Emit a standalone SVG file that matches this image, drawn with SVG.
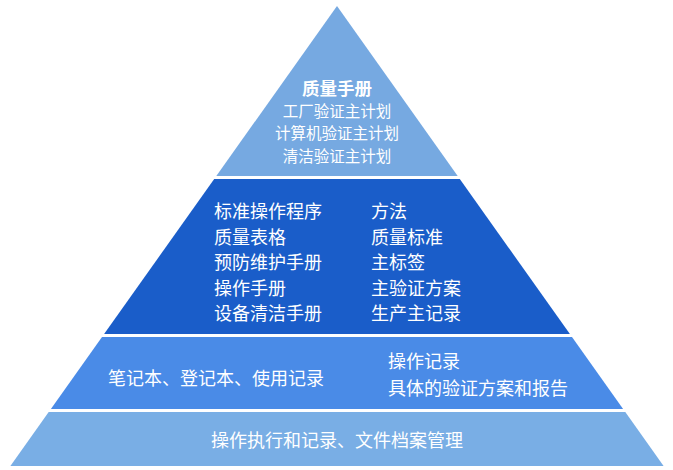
<svg xmlns="http://www.w3.org/2000/svg" width="673" height="470" viewBox="0 0 673 470">
  <style>
    text { font-family: "Noto Sans CJK SC", "Noto Sans", sans-serif; fill: #ffffff; }
    .t1 { font-size: 15.5px; text-anchor: middle; }
    .t1b { font-size: 17.5px; font-weight: bold; text-anchor: middle; }
    .t2 { font-size: 18px; }
    .tm { font-size: 18px; text-anchor: middle; }
  </style>
  <rect width="673" height="470" fill="#ffffff"/>
  <g id="tier-top">
    <polygon points="337,6 457.7,176 216.3,176" fill="#76a9e1"/>
    <text class="t1b" x="337" y="94.5">质量手册</text>
    <text class="t1" x="337" y="117">工厂验证主计划</text>
    <text class="t1" x="337" y="139">计算机验证主计划</text>
    <text class="t1" x="337" y="161.5">清洁验证主计划</text>
  </g>
  <g id="tier-procedures">
    <polygon points="214.2,179 459.8,179 569.9,334 104.1,334" fill="#1a5dc9"/>
    <text class="t2" x="214" y="217.5">标准操作程序</text>
    <text class="t2" x="214" y="243.5">质量表格</text>
    <text class="t2" x="214" y="268.5">预防维护手册</text>
    <text class="t2" x="214" y="294.5">操作手册</text>
    <text class="t2" x="214" y="319.5">设备清洁手册</text>
    <text class="t2" x="371" y="217.5">方法</text>
    <text class="t2" x="371" y="243.5">质量标准</text>
    <text class="t2" x="371" y="268.5">主标签</text>
    <text class="t2" x="371" y="294.5">主验证方案</text>
    <text class="t2" x="371" y="319.5">生产主记录</text>
  </g>
  <g id="tier-records">
    <polygon points="102,337 572,337 623.1,409 50.9,409" fill="#4a8be7"/>
    <text class="t2" x="108" y="384.5">笔记本、登记本、使用记录</text>
    <text class="t2" x="388" y="367.5">操作记录</text>
    <text class="t2" x="388" y="394.5">具体的验证方案和报告</text>
  </g>
  <g id="tier-execution">
    <polygon points="48.7,412 625.3,412 663.6,466 10.4,466" fill="#79aee5"/>
    <text class="tm" x="337" y="446.5">操作执行和记录、文件档案管理</text>
  </g>
</svg>
